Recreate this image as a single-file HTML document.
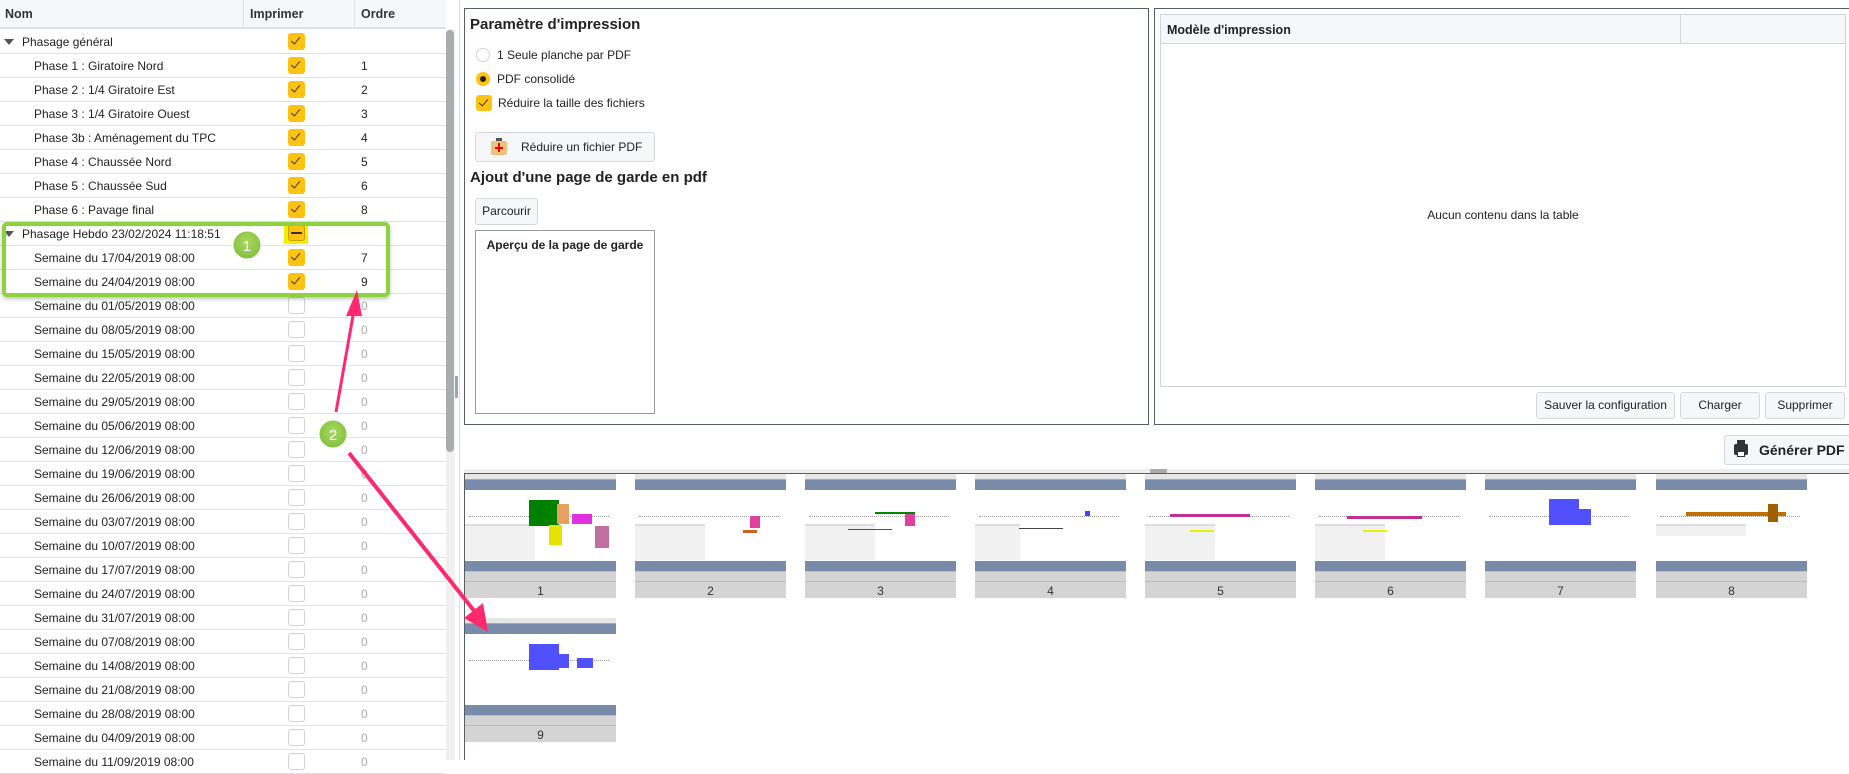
<!DOCTYPE html>
<html><head><meta charset="utf-8">
<style>
*{box-sizing:border-box;margin:0;padding:0}
body{width:1849px;height:760px;overflow:hidden;background:#fff;font-family:"Liberation Sans",sans-serif;font-size:12px;color:#222;position:relative}
.a{position:absolute}
.hdr{left:0;top:0;width:446px;height:29px;background:#f6f7f9;border-bottom:2px solid #dde1e6}
.hdr span{position:absolute;top:7px;font-weight:bold;font-size:12.5px;color:#333}
.r{position:absolute;left:0;width:446px;height:24px;border-bottom:1px solid #dfe3e8}
.r .t{position:absolute;left:34px;top:5px;font-size:12px;white-space:nowrap}
.r .t0{left:22px}
.r .tri{position:absolute;left:4px;top:9px;width:0;height:0;border-left:5px solid transparent;border-right:5px solid transparent;border-top:6px solid #555}
.cb{position:absolute;left:288px;top:3px;width:17px;height:17px;border-radius:3px;background:#ffc20e}
.cb::after{content:"";position:absolute;left:5px;top:2px;width:4px;height:8px;border:solid #333;border-width:0 1.5px 1.5px 0;transform:rotate(40deg)}
.cb.e{background:#fff;border:1.5px solid #cfd4da}
.cb.e::after{display:none}
.o{position:absolute;left:361px;top:5px}
.o.g{color:#aaa}
.btn{position:absolute;background:#f6f7f9;border:1px solid #d3d8de;border-radius:3px;font-size:12px;text-align:center}
.th{position:absolute;width:151px;height:124px;background:#fff}
.th .s{position:absolute;left:0;top:0;width:151px;height:6px;background:#e6e6e6;border-bottom:1px solid #aaa}
.th .b1{position:absolute;left:0;top:6px;width:151px;height:10px;background:#7a8aa9}
.th .b2{position:absolute;left:0;top:87px;width:151px;height:10px;background:#7a8aa9}
.th .g{position:absolute;left:0;top:97px;width:151px;height:27px;background:#d4d4d4;border-top:1px solid #c0c0c0}
.th .g::before{content:"";position:absolute;left:0;top:9px;width:151px;height:1px;background:#bbb}
.th .n{position:absolute;left:0;top:12px;width:151px;text-align:center;font-size:12px;color:#333}
.th .m{position:absolute;left:4px;top:42px;width:140px;height:1px;border-top:1px dotted #999}
.th .lp{position:absolute;left:0;top:50px;width:70px;height:36px;background:#f1f1f1;border-top:2px solid #ddd}
</style></head><body>

<!-- LEFT TREE -->
<div class="a hdr"><span style="left:5px">Nom</span><span style="left:250px">Imprimer</span><span style="left:361px">Ordre</span></div>
<div class="a" style="left:243px;top:0;width:1px;height:29px;background:#dde1e6"></div>
<div class="a" style="left:354px;top:0;width:1px;height:29px;background:#dde1e6"></div>

<div class="r" style="top:30px"><div class="tri"></div><span class="t t0">Phasage général</span><div class="cb"></div></div>
<div class="r" style="top:54px"><span class="t">Phase 1 : Giratoire Nord</span><div class="cb"></div><span class="o">1</span></div>
<div class="r" style="top:78px"><span class="t">Phase 2 : 1/4 Giratoire Est</span><div class="cb"></div><span class="o">2</span></div>
<div class="r" style="top:102px"><span class="t">Phase 3 : 1/4 Giratoire Ouest</span><div class="cb"></div><span class="o">3</span></div>
<div class="r" style="top:126px"><span class="t">Phase 3b : Aménagement du TPC</span><div class="cb"></div><span class="o">4</span></div>
<div class="r" style="top:150px"><span class="t">Phase 4 : Chaussée Nord</span><div class="cb"></div><span class="o">5</span></div>
<div class="r" style="top:174px"><span class="t">Phase 5 : Chaussée Sud</span><div class="cb"></div><span class="o">6</span></div>
<div class="r" style="top:198px"><span class="t">Phase 6 : Pavage final</span><div class="cb"></div><span class="o">8</span></div>
<div class="r" style="top:222px"><div class="tri"></div><span class="t t0">Phasage Hebdo 23/02/2024 11:18:51</span>
 <div class="a" style="left:284px;top:0;width:24px;height:22px;background:#f5ee00"></div>
 <div class="a" style="left:288px;top:3px;width:17px;height:16px;border-radius:3px;background:#ffc20e;border:1px solid #c9a000"></div>
 <div class="a" style="left:291px;top:10px;width:11px;height:2px;background:#333"></div></div>
<div class="r" style="top:246px"><span class="t">Semaine du 17/04/2019 08:00</span><div class="cb"></div><span class="o">7</span></div>
<div class="r" style="top:270px"><span class="t">Semaine du 24/04/2019 08:00</span><div class="cb"></div><span class="o">9</span></div>
<div class="r" style="top:294px"><span class="t">Semaine du 01/05/2019 08:00</span><div class="cb e"></div><span class="o g">0</span></div>
<div class="r" style="top:318px"><span class="t">Semaine du 08/05/2019 08:00</span><div class="cb e"></div><span class="o g">0</span></div>
<div class="r" style="top:342px"><span class="t">Semaine du 15/05/2019 08:00</span><div class="cb e"></div><span class="o g">0</span></div>
<div class="r" style="top:366px"><span class="t">Semaine du 22/05/2019 08:00</span><div class="cb e"></div><span class="o g">0</span></div>
<div class="r" style="top:390px"><span class="t">Semaine du 29/05/2019 08:00</span><div class="cb e"></div><span class="o g">0</span></div>
<div class="r" style="top:414px"><span class="t">Semaine du 05/06/2019 08:00</span><div class="cb e"></div><span class="o g">0</span></div>
<div class="r" style="top:438px"><span class="t">Semaine du 12/06/2019 08:00</span><div class="cb e"></div><span class="o g">0</span></div>
<div class="r" style="top:462px"><span class="t">Semaine du 19/06/2019 08:00</span><div class="cb e"></div><span class="o g">0</span></div>
<div class="r" style="top:486px"><span class="t">Semaine du 26/06/2019 08:00</span><div class="cb e"></div><span class="o g">0</span></div>
<div class="r" style="top:510px"><span class="t">Semaine du 03/07/2019 08:00</span><div class="cb e"></div><span class="o g">0</span></div>
<div class="r" style="top:534px"><span class="t">Semaine du 10/07/2019 08:00</span><div class="cb e"></div><span class="o g">0</span></div>
<div class="r" style="top:558px"><span class="t">Semaine du 17/07/2019 08:00</span><div class="cb e"></div><span class="o g">0</span></div>
<div class="r" style="top:582px"><span class="t">Semaine du 24/07/2019 08:00</span><div class="cb e"></div><span class="o g">0</span></div>
<div class="r" style="top:606px"><span class="t">Semaine du 31/07/2019 08:00</span><div class="cb e"></div><span class="o g">0</span></div>
<div class="r" style="top:630px"><span class="t">Semaine du 07/08/2019 08:00</span><div class="cb e"></div><span class="o g">0</span></div>
<div class="r" style="top:654px"><span class="t">Semaine du 14/08/2019 08:00</span><div class="cb e"></div><span class="o g">0</span></div>
<div class="r" style="top:678px"><span class="t">Semaine du 21/08/2019 08:00</span><div class="cb e"></div><span class="o g">0</span></div>
<div class="r" style="top:702px"><span class="t">Semaine du 28/08/2019 08:00</span><div class="cb e"></div><span class="o g">0</span></div>
<div class="r" style="top:726px"><span class="t">Semaine du 04/09/2019 08:00</span><div class="cb e"></div><span class="o g">0</span></div>
<div class="r" style="top:750px"><span class="t">Semaine du 11/09/2019 08:00</span><div class="cb e"></div><span class="o g">0</span></div>

<!-- scrollbar -->
<div class="a" style="left:446px;top:29px;width:9px;height:731px;background:#f0f0f0"></div>
<div class="a" style="left:446px;top:30px;width:8px;height:422px;background:#a9adb2;border-radius:4px"></div>
<div class="a" style="left:455px;top:376px;width:3px;height:22px;background:#9aa"></div>
<div class="a" style="left:459px;top:0;width:1px;height:760px;background:#e0e0e0"></div>

<!-- MIDDLE PANEL -->
<div class="a" style="left:464px;top:8px;width:685px;height:417px;border:1px solid #555d66"></div>
<div class="a" style="left:470px;top:16px;font-size:15px;font-weight:bold">Paramètre d'impression</div>
<div class="a" style="left:476px;top:48px;width:14px;height:14px;border-radius:50%;border:1.5px solid #cfd4da;background:#fff"></div>
<div class="a" style="left:497px;top:48px">1 Seule planche par PDF</div>
<div class="a" style="left:476px;top:72px;width:14px;height:14px;border-radius:50%;background:#ffc20e"></div>
<div class="a" style="left:480px;top:76px;width:6px;height:6px;border-radius:50%;background:#222"></div>
<div class="a" style="left:497px;top:72px">PDF consolidé</div>
<div class="cb" style="left:476px;top:95px;width:16px;height:16px"></div>
<div class="a" style="left:498px;top:96px">Réduire la taille des fichiers</div>
<div class="btn" style="left:475px;top:132px;width:180px;height:30px"></div>
<div class="a" style="left:491px;top:141px;width:16px;height:14px;background:#f0c080;border-radius:2px"></div>
<div class="a" style="left:496px;top:138px;width:6px;height:3px;background:#555"></div>
<div class="a" style="left:498px;top:143px;width:2px;height:9px;background:#e00"></div>
<div class="a" style="left:495px;top:147px;width:8px;height:2px;background:#e00"></div>
<div class="a" style="left:521px;top:140px">Réduire un fichier PDF</div>
<div class="a" style="left:470px;top:169px;font-size:15px;font-weight:bold">Ajout d'une page de garde en pdf</div>
<div class="btn" style="left:475px;top:198px;width:63px;height:27px;line-height:25px">Parcourir</div>
<div class="a" style="left:475px;top:230px;width:180px;height:184px;border:1px solid #999"></div>
<div class="a" style="left:475px;top:238px;width:180px;text-align:center;font-weight:bold">Aperçu de la page de garde</div>

<!-- RIGHT PANEL -->
<div class="a" style="left:1154px;top:8px;width:700px;height:417px;border:1px solid #555d66"></div>
<div class="a" style="left:1160px;top:14px;width:686px;height:373px;border:1px solid #cfd4da"></div>
<div class="a" style="left:1161px;top:15px;width:684px;height:29px;background:#f6f7f9;border-bottom:1px solid #cfd4da"></div>
<div class="a" style="left:1680px;top:15px;width:1px;height:29px;background:#cfd4da"></div>
<div class="a" style="left:1167px;top:23px;font-weight:bold;font-size:12.5px">Modèle d'impression</div>
<div class="a" style="left:1403px;top:208px;width:200px;text-align:center">Aucun contenu dans la table</div>
<div class="btn" style="left:1536px;top:392px;width:139px;height:27px;line-height:25px">Sauver la configuration</div>
<div class="btn" style="left:1680px;top:392px;width:80px;height:27px;line-height:25px">Charger</div>
<div class="btn" style="left:1765px;top:392px;width:80px;height:27px;line-height:25px">Supprimer</div>
<div class="btn" style="left:1724px;top:435px;width:130px;height:30px;line-height:28px;font-weight:bold;font-size:14px;text-align:left;padding-left:34px">Générer PDF</div>
<div class="a" style="left:1734px;top:444px;width:14px;height:11px;background:#333;border-radius:2px"></div>
<div class="a" style="left:1737px;top:440px;width:8px;height:4px;background:#333"></div>
<div class="a" style="left:1737px;top:451px;width:8px;height:6px;background:#fff;border:1px solid #333"></div>

<!-- THUMB AREA -->
<div class="a" style="left:464px;top:469px;width:1385px;height:4px;background:#eee"></div>
<div class="a" style="left:1150px;top:469px;width:17px;height:4px;background:#aaa"></div>
<div class="a" style="left:464px;top:473px;width:1385px;height:1px;background:#555d66"></div>
<div class="a" style="left:464px;top:473px;width:1px;height:287px;background:#555d66"></div>

<div class="th" style="left:465px;top:474px"><div class="s"></div><div class="b1"></div>
 <div class="m"></div><div class="lp"></div>
 <div class="a" style="left:64px;top:26px;width:30px;height:26px;background:#008000"></div>
 <div class="a" style="left:92px;top:30px;width:12px;height:20px;background:#e8a060"></div>
 <div class="a" style="left:107px;top:40px;width:20px;height:10px;background:#e030e0"></div>
 <div class="a" style="left:84px;top:51px;width:13px;height:20px;background:#e8e000"></div>
 <div class="a" style="left:130px;top:52px;width:14px;height:22px;background:#c070a0"></div>
 <div class="b2"></div><div class="g"><div class="n">1</div></div></div>
<div class="th" style="left:635px;top:474px"><div class="s"></div><div class="b1"></div><div class="m"></div><div class="lp"></div>
 <div class="a" style="left:115px;top:42px;width:10px;height:12px;background:#e040a0"></div>
 <div class="a" style="left:108px;top:56px;width:14px;height:3px;background:#d06020"></div>
 <div class="b2"></div><div class="g"><div class="n">2</div></div></div>
<div class="th" style="left:805px;top:474px"><div class="s"></div><div class="b1"></div><div class="m"></div><div class="lp"></div>
 <div class="a" style="left:70px;top:38px;width:40px;height:2px;background:#080"></div>
 <div class="a" style="left:43px;top:55px;width:44px;height:1px;background:#080"></div>
 <div class="a" style="left:100px;top:40px;width:10px;height:12px;background:#e040a0"></div>
 <div class="b2"></div><div class="g"><div class="n">3</div></div></div>
<div class="th" style="left:975px;top:474px"><div class="s"></div><div class="b1"></div><div class="m"></div><div class="lp" style="width:45px"></div>
 <div class="a" style="left:110px;top:37px;width:5px;height:5px;background:#44f"></div>
 <div class="a" style="left:44px;top:54px;width:44px;height:1px;background:#444"></div>
 <div class="b2"></div><div class="g"><div class="n">4</div></div></div>
<div class="th" style="left:1145px;top:474px"><div class="s"></div><div class="b1"></div><div class="m"></div><div class="lp"></div>
 <div class="a" style="left:25px;top:40px;width:80px;height:3px;background:#c03090"></div>
 <div class="a" style="left:45px;top:56px;width:24px;height:2px;background:#ee0"></div>
 <div class="b2"></div><div class="g"><div class="n">5</div></div></div>
<div class="th" style="left:1315px;top:474px"><div class="s"></div><div class="b1"></div><div class="m"></div><div class="lp"></div>
 <div class="a" style="left:32px;top:42px;width:75px;height:3px;background:#c03090"></div>
 <div class="a" style="left:48px;top:56px;width:24px;height:2px;background:#ee0"></div>
 <div class="b2"></div><div class="g"><div class="n">6</div></div></div>
<div class="th" style="left:1485px;top:474px"><div class="s"></div><div class="b1"></div><div class="m"></div>
 <div class="a" style="left:64px;top:25px;width:30px;height:26px;background:#5050ff"></div>
 <div class="a" style="left:92px;top:35px;width:14px;height:16px;background:#5050ff"></div>
 <div class="b2"></div><div class="g"><div class="n">7</div></div></div>
<div class="th" style="left:1656px;top:474px"><div class="s"></div><div class="b1"></div><div class="m"></div><div class="lp" style="width:90px;height:12px"></div>
 <div class="a" style="left:30px;top:38px;width:100px;height:4px;background:#c07000"></div>
 <div class="a" style="left:112px;top:30px;width:10px;height:18px;background:#a06000"></div>
 <div class="b2"></div><div class="g"><div class="n">8</div></div></div>
<div class="th" style="left:465px;top:618px"><div class="s"></div><div class="b1"></div><div class="m"></div>
 <div class="a" style="left:64px;top:26px;width:30px;height:26px;background:#5050ff"></div>
 <div class="a" style="left:92px;top:36px;width:12px;height:14px;background:#5050ff"></div>
 <div class="a" style="left:112px;top:40px;width:16px;height:10px;background:#5050ff"></div>
 <div class="b2"></div><div class="g"><div class="n">9</div></div></div>

<!-- ANNOTATIONS -->
<div class="a" style="left:2px;top:222px;width:388px;height:75px;border:4px solid #8ed13f;border-radius:5px;box-shadow:0 2px 4px rgba(0,0,0,.25)"></div>
<svg class="a" style="left:0;top:0" width="1849" height="760">
 <defs><radialGradient id="gg" cx="50%" cy="40%" r="60%"><stop offset="0" stop-color="#a9d860"/><stop offset="1" stop-color="#82c040"/></radialGradient></defs>
 <path d="M336 412 L354 310" stroke="#ff2a6d" stroke-width="3" fill="none"/>
 <path d="M357 290 L346 316 L362 316 Z" fill="#ff2a6d"/>
 <path d="M349 453 L475 612" stroke="#ff2a6d" stroke-width="4" fill="none"/>
 <path d="M488 632 L464 618 L483 603 Z" fill="#ff2a6d"/>
 <circle cx="247" cy="245" r="14" fill="url(#gg)" stroke="#fff" stroke-width="1"/>
 <text x="247" y="251" text-anchor="middle" font-family="Liberation Sans" font-size="15" fill="#fff">1</text>
 <circle cx="333" cy="434" r="14" fill="url(#gg)" stroke="#fff" stroke-width="1"/>
 <text x="333" y="440" text-anchor="middle" font-family="Liberation Sans" font-size="15" fill="#fff">2</text>
</svg>
</body></html>
